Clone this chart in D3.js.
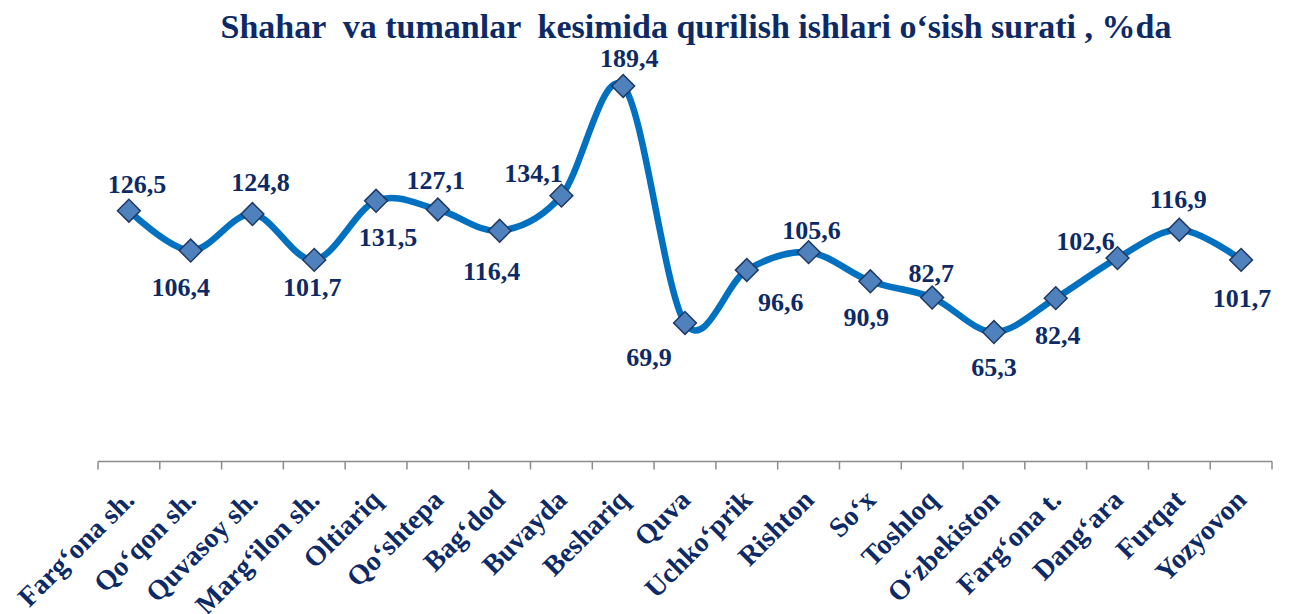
<!DOCTYPE html>
<html><head><meta charset="utf-8">
<script src="https://cdn.jsdelivr.net/npm/d3@7"></script>
<style>body{margin:0;background:#fff}svg{display:block}text{font-family:"Liberation Serif","Times New Roman",Times,serif;font-weight:bold}</style>
</head><body>
<svg id="c" width="1293" height="614"></svg>
<script>
const title = "Shahar  va tumanlar  kesimida qurilish ishlari o‘sish surati , %da";
const categories = ["Farg‘ona sh.","Qo‘qon sh.","Quvasoy sh.","Marg‘ilon sh.","Oltiariq","Qo‘shtepa","Bag‘dod","Buvayda","Beshariq","Quva","Uchko‘prik","Rishton","So‘x","Toshloq","O‘zbekiston","Farg‘ona t.","Dang‘ara","Furqat","Yozyovon"];
const values = [126.5,106.4,124.8,101.7,131.5,127.1,116.4,134.1,189.4,69.9,96.6,105.6,90.9,82.7,65.3,82.4,102.6,116.9,101.7];
const valueLabels = ["126,5","106,4","124,8","101,7","131,5","127,1","116,4","134,1","189,4","69,9","96,6","105,6","90,9","82,7","65,3","82,4","102,6","116,9","101,7"];
// label offsets (style/layout) relative to marker
const labelOffsets = [[8,-27],[-10,36],[8,-32],[-2,27],[12,36],[-2,-30],[-8,40],[-28,-23],[6,-28],[-36,34],[34,32],[3,-22],[-4,36],[-1,-25],[0,35],[2,37],[-32,-17],[-1,-31],[1,38]];
const yDomain = [0,200];

const svg = d3.select("#c");
const navy = "#0D2A66";
const x = d3.scaleBand().domain(categories).range([98,1272]).paddingInner(0).paddingOuter(0);
const y = d3.scaleLinear().domain(yDomain).range([461.5,65]);
const cx = d => x(d) + x.bandwidth()/2;

svg.append("text").attr("x",696).attr("y",38).attr("text-anchor","middle")
  .attr("font-size",34)
  .attr("fill",navy).style("white-space","pre").text(title);

// axis
const ax = svg.append("g");
ax.append("line").attr("x1",x.range()[0]).attr("x2",x.range()[1]).attr("y1",y(0)).attr("y2",y(0))
  .attr("stroke","#8c8c8c").attr("stroke-width",1.5);
const bounds = categories.map(c=>x(c)).concat([x.range()[1]]);
ax.selectAll("line.t").data(bounds).join("line").attr("class","t")
  .attr("x1",d=>d).attr("x2",d=>d).attr("y1",y(0)).attr("y2",y(0)+8)
  .attr("stroke","#8c8c8c").attr("stroke-width",1.5);
ax.selectAll("text").data(categories).join("text")
  .attr("transform",d=>`translate(${cx(d)+7},${y(0)+40}) rotate(-45)`)
  .attr("text-anchor","end")
  .attr("font-size",28).attr("fill",navy).text(d=>d);

const pts = categories.map((c,i)=>[cx(c), y(values[i])]);
svg.append("path").attr("d", d3.line().curve(d3.curveCatmullRom.alpha(0))(pts))
  .attr("fill","none").attr("stroke","#0070C0").attr("stroke-width",6.5).attr("stroke-linecap","round");

svg.selectAll("path.m").data(pts).join("path").attr("class","m")
  .attr("d", d3.symbol().type(d3.symbolSquare).size(260))
  .attr("transform",d=>`translate(${d[0]},${d[1]}) rotate(45)`)
  .attr("fill","#4F81BD").attr("stroke","#1F3864").attr("stroke-width",1.5);

svg.selectAll("text.v").data(pts).join("text").attr("class","v")
  .attr("x",(d,i)=>d[0]+labelOffsets[i][0]).attr("y",(d,i)=>d[1]+labelOffsets[i][1]+9)
  .attr("text-anchor","middle")
  .attr("font-size",26).attr("fill",navy).text((d,i)=>valueLabels[i]);
</script>
</body></html>
